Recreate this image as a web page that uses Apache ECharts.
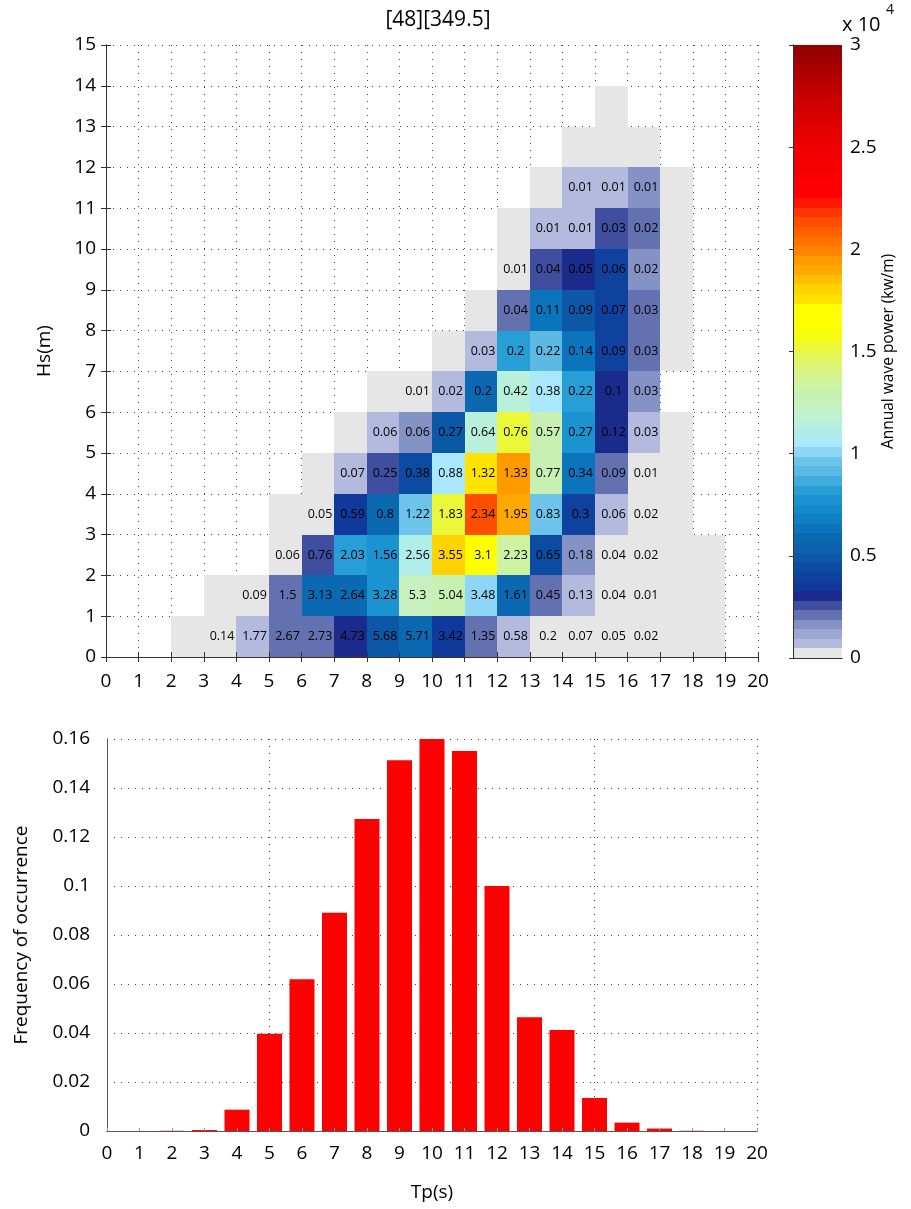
<!DOCTYPE html>
<html>
<head>
<meta charset="utf-8">
<title>Annual wave power scatter table</title>
<script src="https://cdn.jsdelivr.net/npm/echarts@6/dist/echarts.min.js"></script>
<style>
  html, body { margin: 0; padding: 0; background: #fff; }
  #app { width: 911px; height: 1209px; }
</style>
</head>
<body>
<div id="app"></div>
<script>
// scatter table: each row is one Hs bin (r .. r+1 m), starting at Tp column rowStart[r]
const rowStart = [2, 3, 5, 5, 6, 7, 8, 10, 11, 12, 12, 13, 14, 15]
// annual wave power per cell (kW/m)
const powerRows = [
  [0, 250, 700, 2100, 2100, 3100, 5000, 5700, 3500, 2100, 700, 300, 100, 100, 50, 0, 0],
  [0, 200, 2100, 5700, 5700, 7600, 12500, 12900, 9900, 5700, 2100, 700, 250, 100, 0, 0],
  [300, 2600, 8100, 7600, 11000, 17900, 16500, 13200, 4300, 1600, 250, 150, 0, 0],
  [0, 350, 3700, 5700, 9500, 15000, 21200, 19000, 9500, 3900, 750, 250, 0],
  [0, 750, 2600, 4300, 10400, 17500, 19500, 12800, 6500, 2100, 200, 0],
  [0, 750, 1600, 5000, 11700, 15200, 13000, 7600, 3100, 750, 0],
  [0, 200, 750, 5700, 11600, 10400, 8100, 3100, 1600],
  [0, 750, 8100, 9000, 6500, 4100, 2100, 0],
  [0, 2100, 6500, 5000, 3900, 2100, 0],
  [300, 2600, 3000, 3900, 1600, 0],
  [0, 750, 750, 2700, 2100, 0],
  [0, 750, 750, 1600, 0],
  [0, 0, 0],
  [0]
]
// occurrence (%) printed in each cell
const freqRows = [
  [null, 0.14, 1.77, 2.67, 2.73, 4.73, 5.68, 5.71, 3.42, 1.35, 0.58, 0.2, 0.07, 0.05, 0.02, null, null],
  [null, 0.09, 1.5, 3.13, 2.64, 3.28, 5.3, 5.04, 3.48, 1.61, 0.45, 0.13, 0.04, 0.01, null, null],
  [0.06, 0.76, 2.03, 1.56, 2.56, 3.55, 3.1, 2.23, 0.65, 0.18, 0.04, 0.02, null, null],
  [null, 0.05, 0.59, 0.8, 1.22, 1.83, 2.34, 1.95, 0.83, 0.3, 0.06, 0.02, null],
  [null, 0.07, 0.25, 0.38, 0.88, 1.32, 1.33, 0.77, 0.34, 0.09, 0.01, null],
  [null, 0.06, 0.06, 0.27, 0.64, 0.76, 0.57, 0.27, 0.12, 0.03, null],
  [null, 0.01, 0.02, 0.2, 0.42, 0.38, 0.22, 0.1, 0.03],
  [null, 0.03, 0.2, 0.22, 0.14, 0.09, 0.03, null],
  [null, 0.04, 0.11, 0.09, 0.07, 0.03, null],
  [0.01, 0.04, 0.05, 0.06, 0.02, null],
  [null, 0.01, 0.01, 0.03, 0.02, null],
  [null, 0.01, 0.01, 0.01, null],
  [null, null, null],
  [null]
]

// frequency of occurrence per Tp
const tpValues = [2, 3, 4, 5, 6, 7, 8, 9, 10, 11, 12, 13, 14, 15, 16, 17, 18]
const tpFreq = [0.0001, 0.0004, 0.0087, 0.0397, 0.0619, 0.0891, 0.1273, 0.1513, 0.16, 0.1551, 0.1, 0.0464, 0.0412, 0.0135, 0.0034, 0.001, 0.0001]

// colormap, 64 levels over 0..3e4
const CMAX = 30000
const NLEV = 64
const STEP = CMAX / NLEV
const lowColors = ['#e6e6e6', '#b3bade', '#9ea7d2', '#8592c6', '#6371b1', '#3f4e9f', '#1b2b8b']
const stops = [
  [0.33, '#12349a'], [0.45, '#0c4ca2'], [0.50, '#0c5aa8'], [0.58, '#0a68b0'], [0.64, '#0a76be'],
  [0.76, '#1890d0'], [0.82, '#289ed6'], [0.91, '#5ab8e2'], [0.96, '#6cc4ea'], [1.00, '#88d4f2'],
  [1.05, '#a8e8ff'], [1.10, '#b0ece8'], [1.15, '#b8f0dc'], [1.24, '#c8f0c0'], [1.30, '#c8f0b0'],
  [1.34, '#cef2a0'], [1.42, '#dcf47a'], [1.52, '#eaf83c'], [1.60, '#ffff00'], [1.72, '#ffff00'],
  [1.76, '#ffe000'], [1.80, '#ffd400'], [1.85, '#ffc000'], [1.90, '#ffa800'], [1.95, '#ff9800'],
  [2.02, '#ff7800'], [2.13, '#ff5000'], [2.20, '#ff2800'], [2.26, '#ff0000'], [2.50, '#f00000'],
  [2.75, '#c80000'], [3.00, '#900000']
]

function hexToRgb(h) {
  return [1, 3, 5].map(i => parseInt(h.slice(i, i + 2), 16))
}
function mix(a, b, t) {
  const x = hexToRgb(a), y = hexToRgb(b)
  return 'rgb(' + x.map((v, i) => Math.round(v + (y[i] - v) * t)).join(',') + ')'
}
function levelColor(i) {
  if (i < lowColors.length) return lowColors[i]
  const v = (i + 0.5) * STEP / 10000
  if (v <= stops[0][0]) return stops[0][1]
  for (let k = 1; k < stops.length; k++) {
    if (v <= stops[k][0]) {
      const t = (v - stops[k - 1][0]) / (stops[k][0] - stops[k - 1][0])
      return mix(stops[k - 1][1], stops[k][1], t)
    }
  }
  return stops[stops.length - 1][1]
}

const pieces = []
const cbarData = []
for (let i = 0; i < NLEV; i++) {
  const p = { gte: i * STEP, color: levelColor(i) }
  if (i < NLEV - 1) p.lt = (i + 1) * STEP
  else p.lte = CMAX
  pieces.push(p)
  cbarData.push([0, i * STEP, (i + 0.5) * STEP, (i + 1) * STEP])
}

const cells = []
powerRows.forEach((row, r) => {
  row.forEach((pw, k) => {
    const f = freqRows[r][k]
    cells.push([rowStart[r] + k, r, pw, f == null ? '' : String(f)])
  })
})

const FONT = 'Open Sans'
const AX = '#333'
const dotted = { color: '#444', width: 1, type: [1, 6] }
const txt = { color: '#000', fontSize: 19, fontFamily: FONT }

const app = document.getElementById('app')
const chart = echarts.init(app, null, { renderer: 'canvas' })

chart.setOption({
  animation: false,
  backgroundColor: '#fff',
  textStyle: { fontFamily: FONT },
  title: {
    text: '[48][349.5]',
    left: 433,
    top: 5,
    textAlign: 'center',
    textStyle: { fontSize: 21, fontWeight: 'normal', color: '#000', fontFamily: FONT }
  },
  grid: [
    { left: 106, top: 45, width: 652, height: 612, outerBoundsMode: 'none' },
    { left: 793, top: 45, width: 49, height: 613, outerBoundsMode: 'none' },
    { left: 107, top: 739, width: 650, height: 392, outerBoundsMode: 'none' }
  ],
  visualMap: {
    type: 'piecewise',
    show: false,
    dimension: 2,
    seriesIndex: [0, 1],
    pieces: pieces
  },
  graphic: [
    { type: 'text', left: 842, top: 15, style: { text: 'x 10', fontSize: 20, fontFamily: FONT, fill: '#000' } },
    { type: 'text', left: 886, top: 3, style: { text: '4', fontSize: 14, fontFamily: FONT, fill: '#000' } }
  ],
  xAxis: [
    {
      gridIndex: 0, type: 'value', min: 0, max: 20, interval: 1, position: 'bottom', z: 3,
      axisLine: { lineStyle: { color: AX } },
      axisTick: { inside: true, length: 5, lineStyle: { color: AX } },
      axisLabel: Object.assign({ margin: 15 }, txt),
      splitLine: { show: false }
    },
    {
      gridIndex: 0, type: 'value', min: 0, max: 20, interval: 1, position: 'top',
      axisLine: { lineStyle: { color: AX } },
      axisTick: { inside: true, length: 5, lineStyle: { color: AX } },
      axisLabel: { show: false },
      splitLine: { show: true, lineStyle: dotted }
    },
    {
      gridIndex: 1, type: 'value', min: 0, max: 1, position: 'bottom', z: 3,
      axisLine: { lineStyle: { color: AX } }, axisTick: { show: false },
      axisLabel: { show: false }, splitLine: { show: false }
    },
    {
      gridIndex: 1, type: 'value', min: 0, max: 1, position: 'top', z: 3,
      axisLine: { lineStyle: { color: AX } }, axisTick: { show: false },
      axisLabel: { show: false }, splitLine: { show: false }
    },
    {
      gridIndex: 2, type: 'value', min: 0, max: 20, interval: 1, position: 'bottom', z: 3,
      name: 'Tp(s)', nameLocation: 'middle', nameGap: 52, nameTextStyle: txt,
      axisLine: { lineStyle: { color: '#555' } },
      axisTick: { inside: true, length: 3, lineStyle: { color: '#999' } },
      axisLabel: Object.assign({ margin: 13 }, txt),
      splitLine: { show: false }
    },
    {
      gridIndex: 2, type: 'value', min: 0, max: 20, interval: 5, position: 'top',
      axisLine: { lineStyle: { color: '#555' } }, axisTick: { show: false },
      axisLabel: { show: false },
      splitLine: { show: true, lineStyle: dotted }
    }
  ],
  yAxis: [
    {
      gridIndex: 0, type: 'value', min: 0, max: 15, interval: 1, position: 'left',
      name: 'Hs(m)', nameLocation: 'middle', nameGap: 52, nameRotate: 90, nameTextStyle: txt,
      axisLine: { lineStyle: { color: AX } },
      axisTick: { inside: true, length: 5, lineStyle: { color: AX } },
      axisLabel: Object.assign({ margin: 10 }, txt),
      splitLine: { show: true, lineStyle: dotted }
    },
    {
      gridIndex: 0, type: 'value', min: 0, max: 15, interval: 1, position: 'right', z: 3,
      axisLine: { lineStyle: { color: AX } },
      axisTick: { inside: true, length: 5, lineStyle: { color: AX } },
      axisLabel: { show: false }, splitLine: { show: false }
    },
    {
      gridIndex: 1, type: 'value', min: 0, max: CMAX, interval: 5000, position: 'right', z: 3,
      name: 'Annual wave power (kw/m)', nameLocation: 'middle', nameGap: 35, nameRotate: 90,
      nameTextStyle: { color: '#000', fontSize: 15.5, fontFamily: FONT },
      axisLine: { lineStyle: { color: AX } },
      axisTick: { inside: true, length: 4, lineStyle: { color: AX } },
      axisLabel: Object.assign({ margin: 8, formatter: v => String(v / 10000) }, txt),
      splitLine: { show: false }
    },
    {
      gridIndex: 1, type: 'value', min: 0, max: CMAX, position: 'left', z: 3,
      axisLine: { lineStyle: { color: AX } }, axisTick: { show: false },
      axisLabel: { show: false }, splitLine: { show: false }
    },
    {
      gridIndex: 2, type: 'value', min: 0, max: 0.16, interval: 0.02, position: 'left',
      name: 'Frequency of occurrence', nameLocation: 'middle', nameGap: 76, nameRotate: 90,
      nameTextStyle: txt,
      axisLine: { lineStyle: { color: '#555' } }, axisTick: { show: false },
      axisLabel: Object.assign({ margin: 17 }, txt),
      splitLine: { show: true, lineStyle: dotted }
    },
    {
      gridIndex: 2, type: 'value', min: 0, max: 0.16, position: 'right', z: 3,
      axisLine: { lineStyle: { color: '#555' } }, axisTick: { show: false },
      axisLabel: { show: false }, splitLine: { show: false }
    }
  ],
  series: [
    {
      type: 'custom',
      name: 'power',
      xAxisIndex: 0,
      yAxisIndex: 0,
      encode: { x: 0, y: 1 },
      data: cells,
      renderItem: function (params, api) {
        const c = api.value(0), r = api.value(1)
        const a = api.coord([c, r + 1]), b = api.coord([c + 1, r])
        const x0 = Math.round(a[0]), y0 = Math.round(a[1])
        const x1 = Math.round(b[0]), y1 = Math.round(b[1])
        const children = [{
          type: 'rect',
          shape: { x: x0, y: y0, width: x1 - x0, height: y1 - y0 },
          style: { fill: api.visual('color') }
        }]
        const label = cells[params.dataIndex][3]
        if (label) {
          children.push({
            type: 'text',
            style: {
              text: label, x: (x0 + x1) / 2 + 2, y: (y0 + y1) / 2,
              align: 'center', verticalAlign: 'middle',
              fontSize: 12.5, fontFamily: FONT, fill: '#000'
            }
          })
        }
        return { type: 'group', children: children }
      }
    },
    {
      type: 'custom',
      name: 'colorbar',
      xAxisIndex: 2,
      yAxisIndex: 2,
      encode: { x: 0, y: 2 },
      data: cbarData,
      renderItem: function (params, api) {
        const a = api.coord([0, api.value(3)]), b = api.coord([1, api.value(1)])
        const x0 = Math.round(a[0]), y0 = Math.round(a[1])
        const x1 = Math.round(b[0]), y1 = Math.round(b[1])
        return {
          type: 'rect',
          shape: { x: x0, y: y0, width: x1 - x0, height: y1 - y0 },
          style: { fill: api.visual('color') }
        }
      }
    },
    {
      type: 'bar',
      name: 'Frequency of occurrence',
      xAxisIndex: 4,
      yAxisIndex: 4,
      barWidth: 25,
      itemStyle: { color: '#ff0000' },
      data: tpValues.map((t, i) => [t, tpFreq[i]])
    }
  ]
})
</script>
</body>
</html>
